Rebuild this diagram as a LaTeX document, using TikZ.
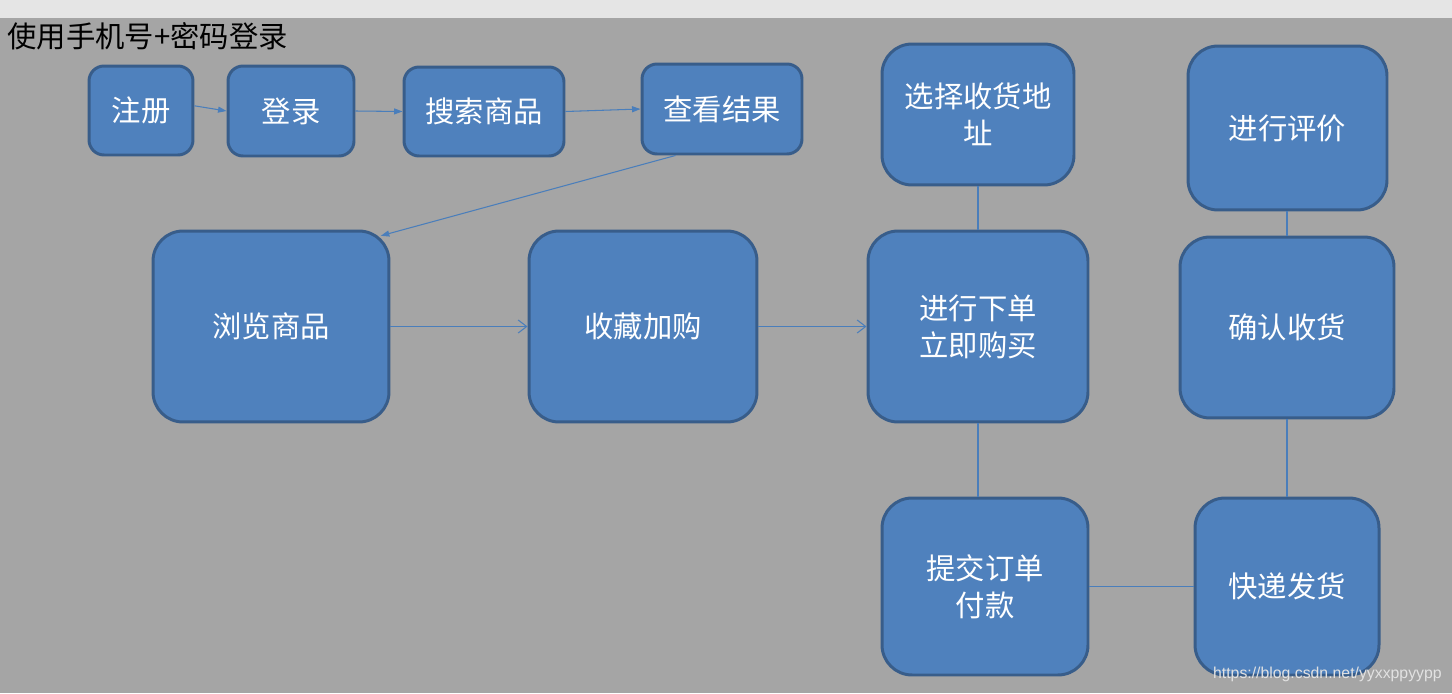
\documentclass[tikz,border=0pt]{standalone}
\usepackage{fontspec}
\usepackage{tikz}
\usetikzlibrary{arrows.meta}
\setmainfont{Liberation Sans}
\newfontfamily\cjk{Noto Sans CJK SC}
\definecolor{FlowFill}{HTML}{4F81BD}
\definecolor{FlowEdge}{HTML}{385D8A}
\definecolor{FlowLine}{HTML}{4A7EBB}
\definecolor{FlowBack}{HTML}{A5A5A5}
\definecolor{FlowStrip}{HTML}{E5E5E5}
\definecolor{FlowMark}{HTML}{E2E2E2}

\begin{document}
\begin{tikzpicture}[
  x=0.02cm, y=-0.02cm,
  font=\cjk\fontsize{16.7}{21}\selectfont,
  smallbox/.style={draw=FlowEdge, fill=FlowFill, line width=1.7pt, rounded corners=0.3cm, text=white, align=center, inner sep=2pt},
  bigbox/.style={smallbox, rounded corners=0.6cm},
  ta/.style={-{Triangle[length=0.17cm, width=0.12cm]}, draw=FlowLine, line width=0.6pt},
  oa/.style={-{Straight Barb[length=0.17cm, width=0.26cm]}, draw=FlowLine, line width=0.6pt},
  ln/.style={draw=FlowLine, line width=0.6pt}
]
\useasboundingbox (0,0) rectangle (1452,693);
\fill[FlowBack] (0,0) rectangle (1452,693);
\fill[FlowStrip] (0,0) rectangle (1452,18);
\node[anchor=west, inner sep=0pt] (title) at (7,36) {使用手机号+密码登录};
% login row
\node[smallbox, minimum width=2.08cm, minimum height=1.78cm] (zhuce) at (141,110.5) {注册};
\node[smallbox, minimum width=2.52cm, minimum height=1.80cm] (denglu) at (291,111) {登录};
\node[smallbox, minimum width=3.20cm, minimum height=1.78cm] (sousuo) at (484,111.5) {搜索商品};
\node[smallbox, minimum width=3.20cm, minimum height=1.80cm] (chakan) at (722,109) {查看结果};
% buying row
\node[bigbox, minimum width=4.72cm, minimum height=3.82cm] (liulan) at (271,326.5) {浏览商品};
\node[bigbox, minimum width=4.56cm, minimum height=3.82cm] (shoucang) at (643,326.5) {收藏加购};
\node[bigbox, minimum width=4.40cm, minimum height=3.82cm] (xiadan) at (978,326.5) {进行下单\\立即购买};
\node[bigbox, minimum width=3.84cm, minimum height=2.82cm] (dizhi) at (978,114.5) {选择收货地\\址};
\node[bigbox, minimum width=4.12cm, minimum height=3.54cm] (tijiao) at (985,586.5) {提交订单\\付款};
% delivery column
\node[bigbox, minimum width=3.68cm, minimum height=3.54cm] (fahuo) at (1287,586.5) {快递发货};
\node[bigbox, minimum width=4.28cm, minimum height=3.62cm] (queren) at (1287,327.5) {确认收货};
\node[bigbox, minimum width=3.98cm, minimum height=3.28cm] (pingjia) at (1287.5,128) {进行评价};
\draw[ta] (zhuce.5) -- (denglu.west);
\draw[ta] (denglu.east) -- (sousuo.west);
\draw[ta] (sousuo.east) -- (chakan.west);
\draw[ta, shorten >=-0.2cm] (chakan.225) -- (liulan.38);
\draw[oa] (liulan.east) -- (shoucang.west);
\draw[oa] (shoucang.east) -- (xiadan.west);
\draw[ln] (dizhi.south) -- (xiadan.north);
\draw[ln] (xiadan.south) -- (xiadan.south |- tijiao.north);
\draw[ln] (tijiao.east) -- (fahuo.west);
\draw[ln] (fahuo.north) -- (queren.south);
\draw[ln] (queren.north) -- (queren.north |- pingjia.south);
\node[anchor=east, inner sep=0pt, text=FlowMark, font=\fontsize{9}{11}\selectfont] (mark) at (1442,674) {https://blog.csdn.net/yyxxppyypp};
\end{tikzpicture}
\end{document}
